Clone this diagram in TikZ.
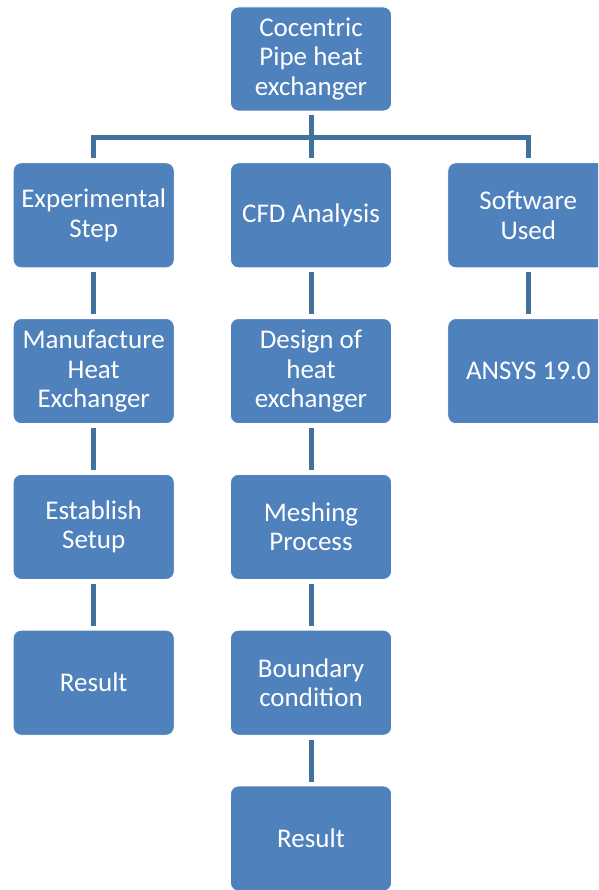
\documentclass[tikz,border=0pt]{standalone}
\usepackage{fontspec}
\setmainfont{Carlito}
\usepackage{xcolor}
\usetikzlibrary{positioning}
\definecolor{boxblue}{HTML}{4F81BD}
\definecolor{linkblue}{HTML}{41719C}

\begin{document}
\begin{tikzpicture}[
    x=1pt, y=1pt,
    node distance=50pt and 55.5pt,
    stepbox/.style={
        rectangle, rounded corners=8pt, fill=boxblue, draw=white, line width=0.8pt,
        text=white, align=center, inner sep=0,
        minimum width=161pt, minimum height=105pt,
        font=\fontsize{27}{29.5}\selectfont},
    link/.style={draw=linkblue, line width=5pt, shorten <=4pt, shorten >=4pt}]

\useasboundingbox (0,0) rectangle (598,-890);
\clip (0,0) rectangle (598,-890);

% top of the tree
\node[stepbox, minimum height=104pt] (pipe) at (311,-59) {Cocentric\\Pipe heat\\exchanger};

% first row
\node[stepbox, below=51pt of pipe] (cfd) {CFD Analysis};
\node[stepbox, left=of cfd] (expstep) {Experimental\\Step};
\node[stepbox, right=of cfd] (software) {Software\\Used};

% experimental column
\node[stepbox, below=of expstep] (manufacture) {Manufacture\\Heat\\Exchanger};
\node[stepbox, below=of manufacture] (setup) {Establish\\Setup};
\node[stepbox, below=of setup] (expresult) {Result};

% cfd column
\node[stepbox, below=of cfd] (design) {Design of\\heat\\exchanger};
\node[stepbox, below=of design] (meshing) {Meshing\\Process};
\node[stepbox, below=of meshing] (boundary) {Boundary\\condition};
\node[stepbox, below=of boundary] (cfdresult) {Result};

% software column
\node[stepbox, below=of software] (ansys) {ANSYS 19.0};

% fork under the top box
\coordinate (fork) at ([yshift=-26pt]pipe.south);
\draw[link] (pipe.south) -- (fork) -| (expstep.north);
\draw[link, shorten <=0pt] (fork) -| (software.north);
\draw[link, shorten <=0pt] (fork) -- (cfd.north);

% links down the columns
\foreach \a/\b in {expstep/manufacture, manufacture/setup, setup/expresult,
                   cfd/design, design/meshing, meshing/boundary, boundary/cfdresult,
                   software/ansys}
    \draw[link] (\a.south) -- (\b.north);

\end{tikzpicture}
\end{document}
